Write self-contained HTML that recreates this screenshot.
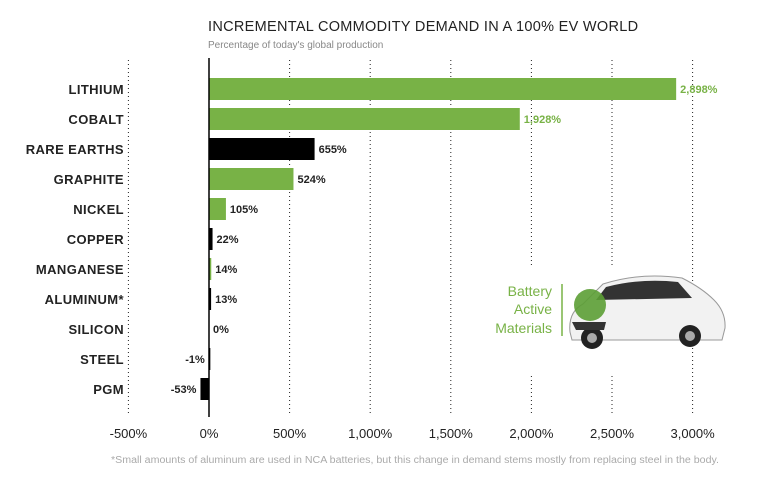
<!DOCTYPE html>
<html><head><meta charset="utf-8"><style>
body{margin:0;background:#fff;width:767px;height:476px;overflow:hidden;font-family:"Liberation Sans",sans-serif}
</style></head><body>
<svg id="chart" width="767" height="476" xmlns="http://www.w3.org/2000/svg">
<text x="208" y="31" font-size="14.5" fill="#222" letter-spacing="0.3">INCREMENTAL COMMODITY DEMAND IN A 100% EV WORLD</text>
<text x="208" y="48" font-size="10" fill="#888">Percentage of today's global production</text>
<g id="grid"></g><g id="bars"></g><g id="labels"></g><g id="ticks"></g>
<g>
<rect x="470" y="268" width="220" height="108" fill="#fff"/>
<text x="552" y="296" font-size="14" fill="#78b246" text-anchor="end">Battery</text>
<text x="552" y="314" font-size="14" fill="#78b246" text-anchor="end">Active</text>
<text x="552" y="333" font-size="14" fill="#78b246" text-anchor="end">Materials</text>
<line x1="562" y1="284" x2="562" y2="336" stroke="#78b246" stroke-width="1.5"/>
<g>
<path d="M570 332 Q568 312 583 304 L603 284 Q640 272 682 278 Q702 288 714 300 Q726 312 725 328 L722 340 L572 340 Z" fill="#f2f2f2" stroke="#999"/>
<path d="M606 287 Q640 278 678 282 L692 298 L596 300 Z" fill="#333"/>
<circle cx="592" cy="338" r="11" fill="#222"/><circle cx="592" cy="338" r="5" fill="#aaa"/>
<circle cx="690" cy="336" r="11" fill="#222"/><circle cx="690" cy="336" r="5" fill="#aaa"/>
<path d="M572 322 L606 322 L604 330 L576 330 Z" fill="#333"/>
<circle cx="590" cy="305" r="16" fill="#5c9e35" opacity="0.9"/>
</g>
</g>
<text x="111" y="463" font-size="10" fill="#aaa" textLength="608" lengthAdjust="spacingAndGlyphs">*Small amounts of aluminum are used in NCA batteries, but this change in demand stems mostly from replacing steel in the body.</text>
</svg>
<script>
const categories=["LITHIUM","COBALT","RARE EARTHS","GRAPHITE","NICKEL","COPPER","MANGANESE","ALUMINUM*","SILICON","STEEL","PGM"];
const values=[2898,1928,655,524,105,22,14,13,0,-1,-53];
const isBattery=[true,true,false,true,true,false,true,false,false,false,false];
const tickValues=[-500,0,500,1000,1500,2000,2500,3000];
const tickLabels=["-500%","0%","500%","1,000%","1,500%","2,000%","2,500%","3,000%"];
const NS="http://www.w3.org/2000/svg";
const x0=209, scale=16.12/100;
const X=v=>x0+v*scale;
const Y=i=>89+i*30;
function mk(tag,attrs,parent,txt){const e=document.createElementNS(NS,tag);for(const k in attrs)e.setAttribute(k,attrs[k]);if(txt!==undefined)e.textContent=txt;document.getElementById(parent).appendChild(e);return e;}
tickValues.forEach((t,i)=>{
  if(t!==0){const g=mk('line',{x1:X(t),x2:X(t),y1:60,y2:415,stroke:'#222','stroke-width':1,'stroke-dasharray':'1,3'},'grid');
  
  }
  const l=mk('text',{x:X(t),y:438,'font-size':13,fill:'#222','text-anchor':'middle'},'ticks',tickLabels[i]);
  
  
});
categories.forEach((c,i)=>{
  const v=values[i],y=Y(i);
  const lab=mk('text',{x:124,y:y+5,'font-size':13,'font-weight':'bold',fill:'#222','text-anchor':'end','letter-spacing':'0.4'},'labels',c);
  
  
  const xa=Math.min(X(0),X(v)),w=Math.max(Math.abs(X(v)-X(0)),v===0?0:1.5);
  const b=mk('rect',{x:xa,y:y-11,width:w,height:22,fill:isBattery[i]?'#78b246':'#000'},'bars');
  
  
  const txt=v.toLocaleString('en-US')+'%';
  const vl=mk('text',{x:v<0?xa-4:X(v)+4,y:y+4,'font-size':11,'font-weight':'bold',fill:(isBattery[i]&&v>1000)?'#78b246':'#222','text-anchor':v<0?'end':'start'},'labels',txt);
  
  
});
const ax=mk('line',{x1:X(0),x2:X(0),y1:58,y2:417,stroke:'#000','stroke-width':1.5},'bars');


</script>
</body></html>
